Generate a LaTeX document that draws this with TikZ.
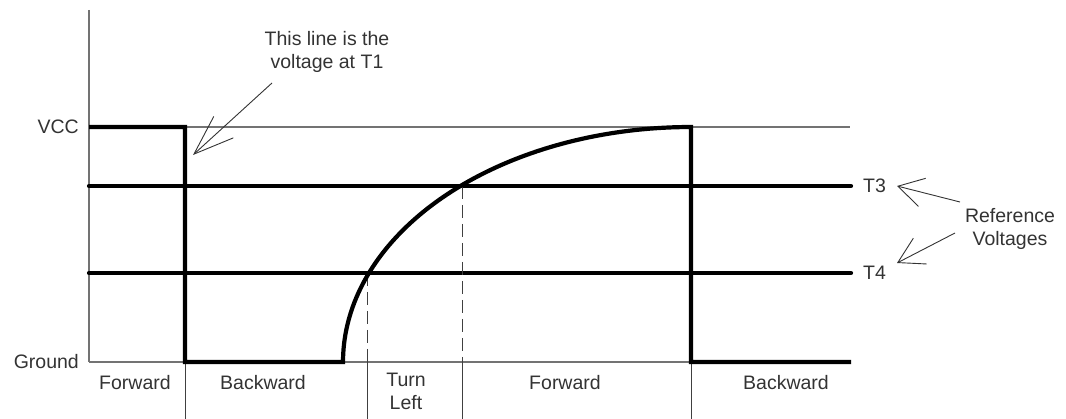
\documentclass[tikz,border=0pt]{standalone}
\usepackage{fontspec}
\setmainfont{Liberation Sans}
\usetikzlibrary{arrows.meta}

\begin{document}
\begin{tikzpicture}[x=1pt, y=-1pt,
    level/.style={line width=4.2pt, line cap=round},
    grid/.style={black!55, line width=1.1pt},
    divider/.style={black!75, line width=1pt},
    guide/.style={black!75, line width=1pt, dash pattern=on 13pt off 6pt},
    label/.style={font=\fontsize{19.5}{23}\selectfont, text=black!80, align=center, inner sep=2pt},
    note/.style={-{Straight Barb[length=25pt,width=29pt]}, black!80, line width=0.9pt},
    bignote/.style={note, -{Straight Barb[length=40pt,width=29pt]}}]
  \useasboundingbox (0,0) rectangle (1066,419);

  % axis and reference levels
  \draw[grid] (89,10) -- (89,362);
  \draw[grid] (89,127) -- (850,127);
  \draw[grid] (89,362) -- (851,362);
  \draw[level] (89,186) -- (851,186);
  \draw[level] (89,273) -- (851,273);

  % switching points
  \draw[guide] (367,273) -- (367,362);
  \draw[guide] (462,186) -- (462,362);
  \foreach \d in {185,367,462,691}
    \draw[divider] (\d,362) -- (\d,419);

  % voltage at T1
  \draw[level, line cap=butt] (89,127) -- (185,127) -- (185,362) -- (343,362)
    -- plot[domain=180:270, samples=80, variable=\t] ({691+348*cos(\t)},{362+235*sin(\t)})
    -- (691,362) -- (851,362);

  \node[label, anchor=east] (vcc) at (81,127) {VCC};
  \node[label, anchor=east] (gnd) at (81,362) {Ground};
  \node[label] (fwd1) at (135,383) {Forward};
  \node[label] (bwd1) at (263,383) {Backward};
  \node[label] (turn) at (406,391) {Turn\\Left};
  \node[label] (fwd2) at (565,383) {Forward};
  \node[label] (bwd2) at (786,383) {Backward};
  \node[label, anchor=west] (t3) at (861,186) {T3};
  \node[label, anchor=west] (t4) at (861,273) {T4};
  \node[label] (refnote) at (1010,229) {Reference\\Voltages};
  \node[label] (t1note) at (327,52) {This line is the\\voltage at T1};

  \coordinate (t1from) at (272,83);
  \coordinate (t1tip) at (193,155);
  \coordinate (t3from) at (960,202);
  \coordinate (t3tip) at (897,186);
  \coordinate (t4from) at (955,233);
  \coordinate (t4tip) at (897,263);
  \draw[bignote] (t1from) -- (t1tip);
  \draw[note] (t3from) -- (t3tip);
  \draw[note] (t4from) -- (t4tip);
\end{tikzpicture}
\end{document}
